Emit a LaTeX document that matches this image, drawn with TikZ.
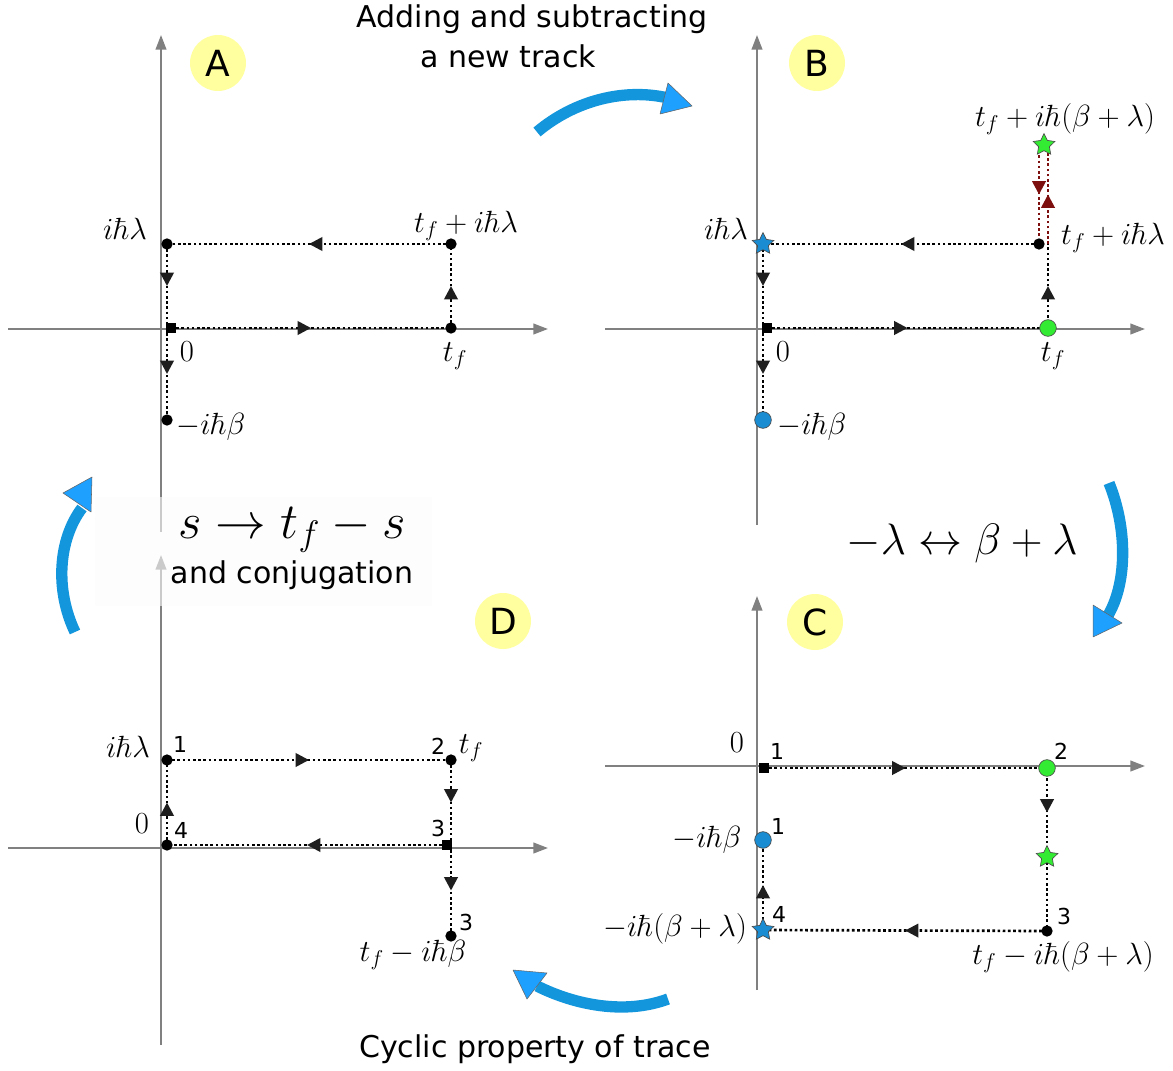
\RequirePackage{fix-cm}
\documentclass[tikz,border=0pt]{standalone}
\usepackage[no-math]{fontspec}
\setmainfont{DejaVu Sans}
\usetikzlibrary{shapes.geometric,decorations.markings,arrows.meta}
\definecolor{axisgray}{RGB}{128,128,128}
\definecolor{bandblue}{RGB}{20,150,220}
\definecolor{tipblue}{RGB}{30,160,255}
\definecolor{ptgreen}{RGB}{50,235,50}
\definecolor{ptblue}{RGB}{25,140,210}
\definecolor{tagyellow}{RGB}{255,255,160}
\definecolor{trackred}{RGB}{125,15,15}
\definecolor{tipdark}{RGB}{30,30,30}
\tikzset{
  axisline/.style={draw=axisgray, line width=1.5pt, -{Triangle[length=11pt,width=8pt]}},
  plaintrack/.style={line width=2pt, dash pattern=on 2pt off 1.9pt},
  track/.style={plaintrack, color=black, postaction={decorate},
    decoration={markings, mark=at position 0.5 with {\arrow[tipdark]{Triangle[length=10pt,width=10pt]}}}},
  redtrack/.style={plaintrack, color=trackred, postaction={decorate},
    decoration={markings, mark=at position 0.5 with {\arrow[trackred]{Triangle[length=10pt,width=10pt]}}}},
  dotmark/.style={circle, fill=black, inner sep=0pt, minimum size=8.5pt},
  sqmark/.style={rectangle, fill=black, inner sep=0pt, minimum size=7pt},
  gcirc/.style={circle, fill=ptgreen, draw=black!70, line width=0.5pt, inner sep=0pt, minimum size=12.5pt},
  bcirc/.style={circle, fill=ptblue, draw=black!70, line width=0.5pt, inner sep=0pt, minimum size=12.5pt},
  gstar/.style={star, star points=5, star point ratio=2, fill=ptgreen, draw=black!70, line width=0.5pt, inner sep=0pt, minimum size=17pt},
  bstar/.style={star, star points=5, star point ratio=2, fill=ptblue, draw=black!70, line width=0.5pt, inner sep=0pt, minimum size=17pt},
  tag/.style={circle, fill=tagyellow, minimum size=42pt, inner sep=0pt, font=\fontsize{27}{27}\selectfont},
  mlbl/.style={inner sep=0pt, font=\fontsize{23}{23}\selectfont},
  num/.style={inner sep=0pt, font=\fontsize{16.5}{17}\selectfont},
  sans/.style={inner sep=0pt, font=\fontsize{22.5}{28}\selectfont},
  bigm/.style={inner sep=0pt, font=\fontsize{33}{33}\selectfont},
  band/.style={draw=bandblue, line width=8.5pt},
  bluetip/.style={fill=tipblue, draw=black!60, line width=0.4pt, line join=round},
}
\begin{document}
\begin{tikzpicture}[x=0.75pt,y=-0.75pt]
\useasboundingbox (0,0) rectangle (1173,1070);

% ---------- axes ----------
\draw[axisline] (161,532) -- (161,35);
\draw[axisline] (8,329) -- (548,329);
\draw[axisline] (757,525) -- (757,35);
\draw[axisline] (605,329) -- (1145,329);
\draw[axisline] (757,990) -- (757,596);
\draw[axisline] (605,766) -- (1145,766);
\draw[axisline] (161,1045) -- (161,555);
\draw[axisline] (8,848) -- (548,848);

% ---------- label box ----------
\fill[white!98!gray, fill opacity=0.6] (95,497) rectangle (432,606);
\node[bigm, font=\fontsize{38}{38}\selectfont] (swap) at (292,530) {$s\to t_f-s$};
\node[sans] (conj) at (292,575) {and conjugation};
\node[bigm] (lam) at (962,543) {$-\lambda\leftrightarrow\beta+\lambda$};
\node[sans] (add1) at (532,19) {Adding and subtracting};
\node[sans] (add2) at (508,56) {a new track};
\node[sans] (cyc) at (535,1049) {Cyclic property of trace};

% ---------- tags ----------
\node[tag] (tA) at (218,63) {A};
\node[tag] (tB) at (817,63) {B};
\node[tag] (tC) at (815,622) {C};
\node[tag] (tD) at (503,621) {D};

% ---------- panel A ----------
\coordinate (aS) at (171,328);
\coordinate (aR) at (451,328);
\coordinate (aT) at (451,244);
\coordinate (aL) at (167,244);
\coordinate (aB) at (167,420);
\coordinate (aM) at (aL |- aS);
\draw[track] (aS) -- (aR);
\draw[track] (aR) -- (aT);
\draw[track] (aT) -- (aL);
\draw[track] (aL) -- (aM);
\draw[track] (aM) -- (aB);
\node[sqmark] (aSm) at (aS) {};
\node[dotmark] (aRm) at (aR) {};
\node[dotmark] (aTm) at (aT) {};
\node[dotmark] (aLm) at (aL) {};
\node[dotmark] (aBm) at (aB) {};
\node[mlbl] (aL1) at (125,229) {$i\hbar\lambda$};
\node[mlbl] (aL2) at (466,226) {$t_f+i\hbar\lambda$};
\node[mlbl] (aL3) at (187,352) {$0$};
\node[mlbl] (aL4) at (455,356) {$t_f$};
\node[mlbl] (aL5) at (211,427) {$-i\hbar\beta$};

% ---------- panel B ----------
\coordinate (bS) at (767,328);
\coordinate (bG) at (1048,328);
\coordinate (bD) at (1039,244);
\coordinate (bJ) at (bG |- bD);
\coordinate (bStar) at (1044,145);
\coordinate (bBS) at (763,244);
\coordinate (bV) at (bBS |- bS);
\coordinate (bC) at (763,420);
\draw[track] (bS) -- (bG);
\draw[track] (bG) -- (bJ);
\draw[redtrack] (bJ) -- (bG |- bStar);
\draw[redtrack] (bD |- bStar) -- (bD);
\draw[track] (bD) -- (bBS);
\draw[track] (bBS) -- (bV);
\draw[track] (bV) -- (bC);
\node[sqmark] (bSm) at (bS) {};
\node[gcirc] (bGm) at (bG) {};
\node[dotmark] (bDm) at (bD) {};
\node[gstar] (bStarm) at (bStar) {};
\node[bstar] (bBSm) at (bBS) {};
\node[bcirc] (bCm) at (bC) {};
\node[mlbl] (bL1) at (1065,119) {$t_f+i\hbar(\beta+\lambda)$};
\node[mlbl] (bL2) at (726,229) {$i\hbar\lambda$};
\node[mlbl] (bL3) at (1113,238) {$t_f+i\hbar\lambda$};
\node[mlbl] (bL4) at (783,352) {$0$};
\node[mlbl] (bL5) at (1053,356) {$t_f$};
\node[mlbl] (bL6) at (812,427) {$-i\hbar\beta$};

% ---------- panel C ----------
\coordinate (cS) at (764,768);
\coordinate (cG) at (1047,768);
\coordinate (cStar) at (1047,857);
\coordinate (cK) at (1047,931);
\coordinate (cBS) at (763,930);
\coordinate (cBC) at (763,840);
\draw[track] (cS) -- (cG);
\draw[track] (cG) -- (cStar);
\draw[plaintrack] (cStar) -- (cK);
\draw[track] (cK) -- (cBS);
\draw[track] (cBS) -- (cBC);
\node[sqmark] (cSm) at (cS) {};
\node[gcirc] (cGm) at (cG) {};
\node[gstar] (cStarm) at (cStar) {};
\node[dotmark] (cKm) at (cK) {};
\node[bstar] (cBSm) at (cBS) {};
\node[bcirc] (cBCm) at (cBC) {};
\node[mlbl] (cL0) at (737,743) {$0$};
\node[num] (cN1) at (777,751) {1};
\node[num] (cN2) at (1061,751) {2};
\node[mlbl] (cL1) at (707,840) {$-i\hbar\beta$};
\node[num] (cN1b) at (778,826) {1};
\node[num] (cN3) at (1064,916) {3};
\node[num] (cN4) at (779,914) {4};
\node[mlbl] (cL2) at (675,929) {$-i\hbar(\beta+\lambda)$};
\node[mlbl] (cL3) at (1063,957) {$t_f-i\hbar(\beta+\lambda)$};

% ---------- panel D ----------
\coordinate (d1) at (167,760);
\coordinate (d2) at (451,760);
\coordinate (d3) at (447,845);
\coordinate (d4) at (167,845);
\coordinate (d5) at (451,936);
\coordinate (dJ) at (d2 |- d3);
\draw[track] (d1) -- (d2);
\draw[track] (d2) -- (dJ);
\draw[track] (d3) -- (d4);
\draw[track] (d4) -- (d1);
\draw[track] (dJ) -- (d5);
\node[dotmark] (d1m) at (d1) {};
\node[dotmark] (d2m) at (d2) {};
\node[sqmark] (d3m) at (d3) {};
\node[dotmark] (d4m) at (d4) {};
\node[dotmark] (d5m) at (d5) {};
\node[mlbl] (dL1) at (128,747) {$i\hbar\lambda$};
\node[num] (dN1) at (180,744) {1};
\node[num] (dN2) at (438,746) {2};
\node[mlbl] (dL2) at (471,748) {$t_f$};
\node[num] (dN3) at (438,828) {3};
\node[mlbl] (dL0) at (142,824) {$0$};
\node[num] (dN4) at (181,830) {4};
\node[num] (dN3b) at (466,922) {3};
\node[mlbl] (dL3) at (413,955) {$t_f-i\hbar\beta$};

% ---------- blue arrows ----------
\draw[band] (537,132) .. controls (575,100) and (625,88) .. (668,98);
\filldraw[bluetip] (668,83) -- (692,106) -- (660,114) -- cycle;
\draw[band] (1109,483) .. controls (1128,530) and (1127,585) .. (1107,617);
\filldraw[bluetip] (1093,605) -- (1122,623) -- (1093,637) -- cycle;
\draw[band] (668,999) .. controls (625,1015) and (575,1005) .. (537,986);
\filldraw[bluetip] (513,970) -- (547,973) -- (527,999) -- cycle;
\draw[band] (75,632) .. controls (55,590) and (58,540) .. (82,508);
\filldraw[bluetip] (63,493) -- (92,477) -- (91,512) -- cycle;
\end{tikzpicture}
\end{document}
